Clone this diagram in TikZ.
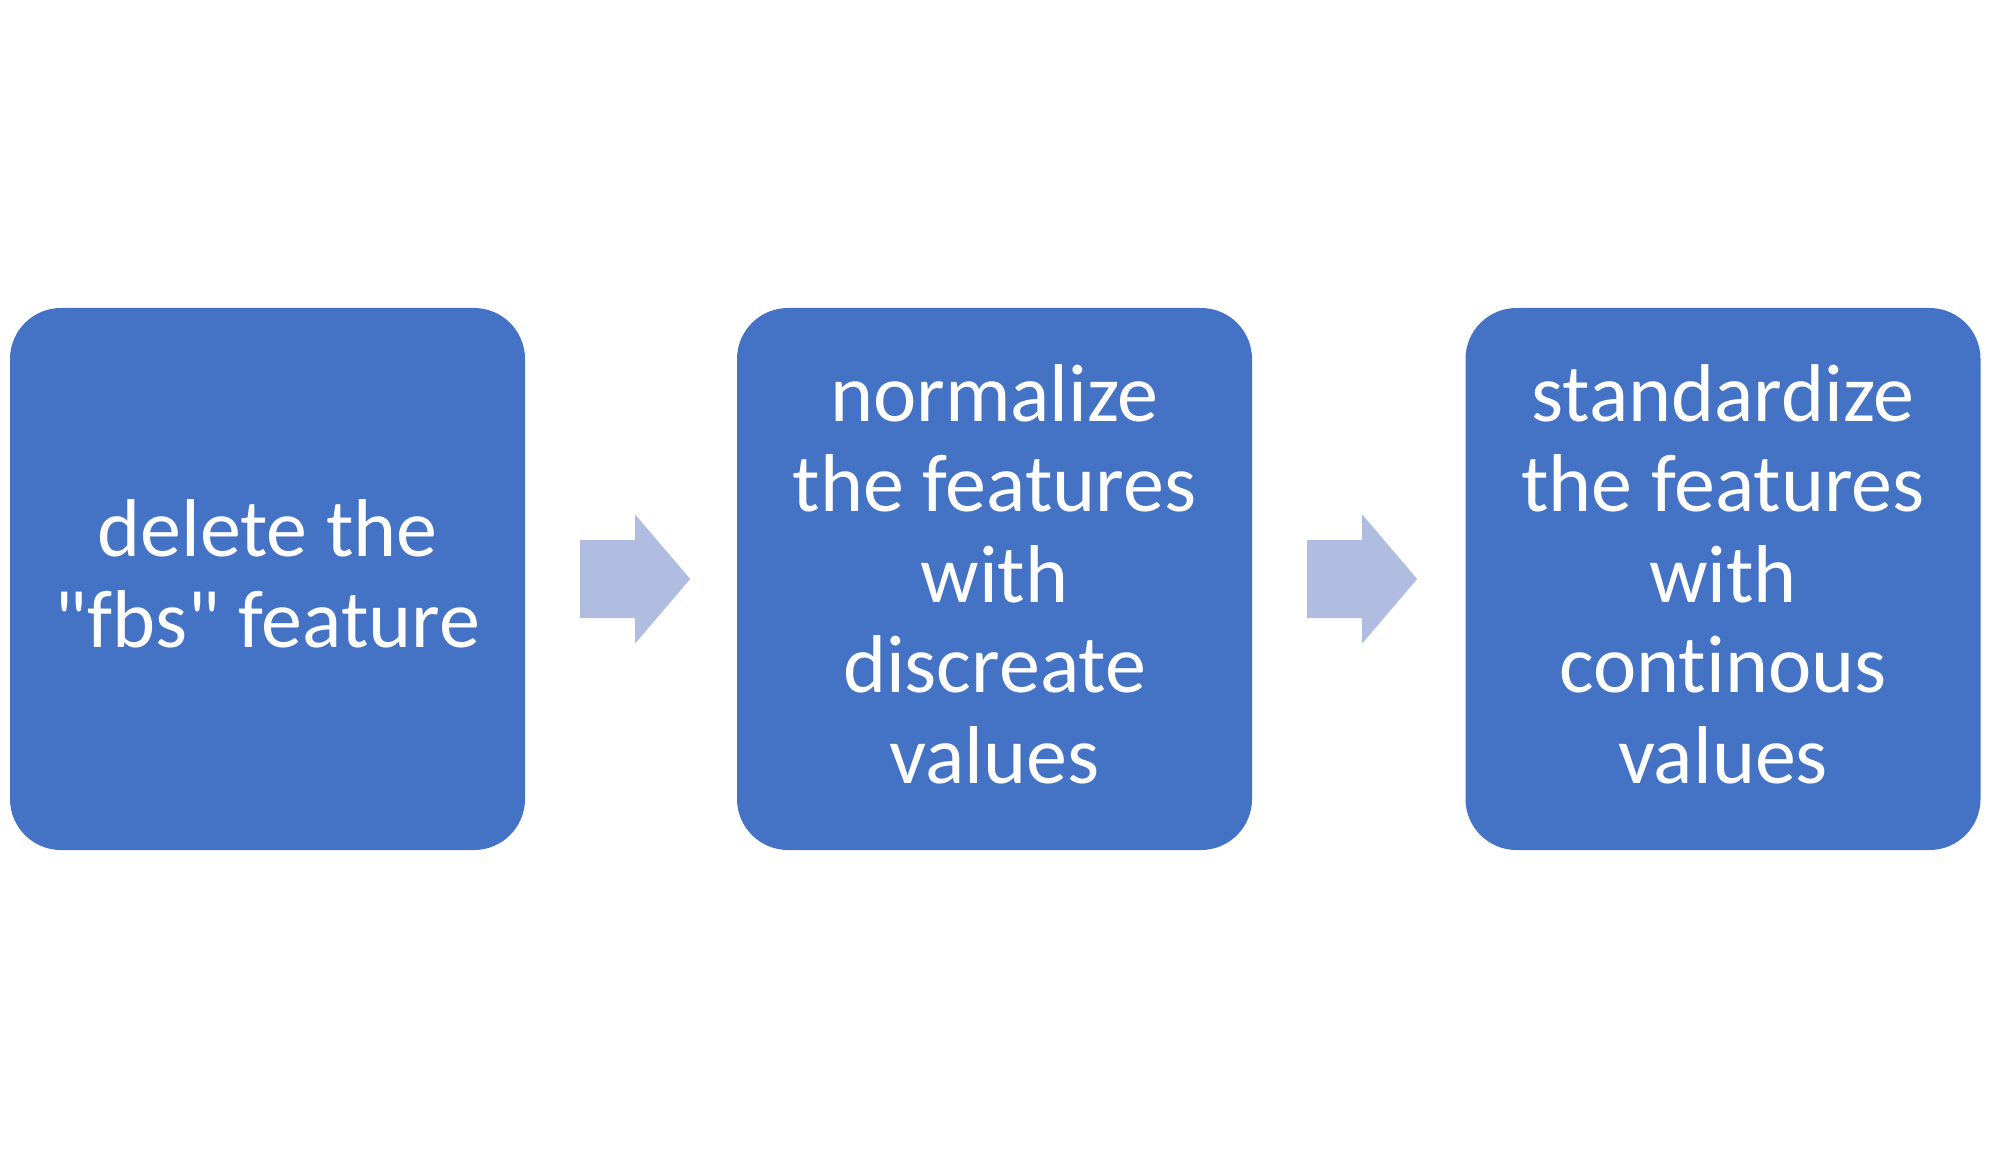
\documentclass[tikz,border=0pt]{standalone}
\usepackage{fontspec}
\setmainfont[Ligatures={TeXOff,NoCommon}]{Carlito}
\usetikzlibrary{calc}
\definecolor{boxblue}{HTML}{4472C4}
\definecolor{arrowblue}{HTML}{B0BDE0}
\newcommand\steptext[1]{\spaceskip=0.226em\relax\xspaceskip=0.226em\relax #1}
\tikzset{
  stepbox/.style={fill=boxblue, draw=none, rounded corners=51pt,
    minimum width=515pt, minimum height=542pt, inner sep=0pt},
  steplabel/.style={text=white, align=center, text width=500pt, inner sep=0pt,
    font=\fontsize{82}{90.5}\selectfont},
  procarrow/.style={fill=arrowblue, draw=none}
}
\begin{document}
\begin{tikzpicture}[x=1pt,y=-1pt]
\useasboundingbox (0,0) rectangle (1993,1155);
\node[stepbox] (b1) at (267.5,579) {};
\node[stepbox] (b2) at (994.5,579) {};
\node[stepbox] (b3) at (1723,579) {};
\node[steplabel] (t1) at ($(b1.center)+(0,-5)$) {\steptext{delete the\\"fbs" feature}};
\node[steplabel] (t2) at ($(b2.center)+(0,-5)$) {\steptext{normalize\\the features\\with\\discreate\\values}};
\node[steplabel] (t3) at ($(b3.center)+(0,-5)$) {\steptext{standardize\\the features\\with\\continous\\values}};
\coordinate (a1) at ($(b1.east)+(55,0)$);
\coordinate (a2) at ($(b2.east)+(55,0)$);
\foreach \a in {a1,a2}{
  \fill[procarrow] ($(\a)+(0,-39)$) -- ($(\a)+(55,-39)$) -- ($(\a)+(55,-64.5)$)
    -- ($(\a)+(110,0)$) -- ($(\a)+(55,64.5)$) -- ($(\a)+(55,39)$)
    -- ($(\a)+(0,39)$) -- cycle;
}
\end{tikzpicture}
\end{document}
